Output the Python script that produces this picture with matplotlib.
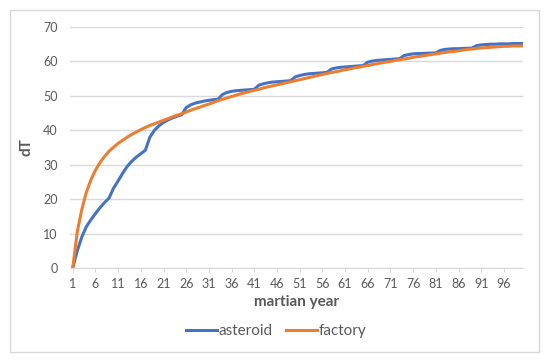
import matplotlib.pyplot as plt
from matplotlib.patches import Rectangle

years = list(range(1, 101))

asteroid = [0, 5, 9, 12, 14, 15.8, 17.5, 19, 20.3, 23.2,
            25.3, 27.5, 29.5, 31, 32.2, 33.2, 34.2, 38, 40, 41.3,
            42.3, 43, 43.6, 44.1, 44.5, 46.6, 47.4, 47.9, 48.2, 48.5,
            48.7, 48.9, 49.0, 50.4, 51.0, 51.3, 51.5, 51.6, 51.7, 51.8,
            51.9, 53.1, 53.5, 53.8, 54.0, 54.1, 54.2, 54.3, 54.4, 55.5,
            55.9, 56.2, 56.4, 56.5, 56.6, 56.7, 56.8, 57.8, 58.1, 58.3,
            58.4, 58.5, 58.6, 58.7, 58.8, 59.8, 60.1, 60.3, 60.4, 60.5,
            60.6, 60.7, 60.8, 61.7, 62.0, 62.2, 62.3, 62.3, 62.4, 62.4,
            62.5, 63.2, 63.5, 63.6, 63.7, 63.7, 63.8, 63.8, 63.9, 64.6,
            64.8, 64.9, 65.0, 65.0, 65.1, 65.1, 65.1, 65.2, 65.2, 65.2]

factory = [0, 10.5, 17, 22, 25.6, 28.4, 30.6, 32.4, 33.9, 35.1,
           36.2, 37.1, 38.0, 38.8, 39.5, 40.2, 40.8, 41.4, 41.9, 42.4,
           42.9, 43.4, 43.9, 44.4, 44.8, 45.3, 45.8, 46.3, 46.7, 47.2,
           47.6, 48.1, 48.6, 49.0, 49.4, 49.8, 50.2, 50.6, 50.9, 51.3,
           51.6, 51.9, 52.3, 52.6, 52.9, 53.2, 53.5, 53.8, 54.1, 54.4,
           54.7, 55.0, 55.3, 55.6, 55.9, 56.2, 56.5, 56.8, 57.0, 57.3,
           57.6, 57.8, 58.1, 58.3, 58.6, 58.8, 59.1, 59.3, 59.6, 59.8,
           60.0, 60.3, 60.5, 60.7, 60.9, 61.2, 61.4, 61.6, 61.8, 62.0,
           62.2, 62.4, 62.6, 62.8, 62.9, 63.1, 63.3, 63.5, 63.6, 63.8,
           63.9, 64.0, 64.1, 64.2, 64.3, 64.4, 64.4, 64.5, 64.5, 64.5]

xticks = list(range(1, 100, 5))
yticks = list(range(0, 80, 10))

plt.rcParams['font.family'] = ['Lato', 'DejaVu Sans']
grey = '#595959'
grid = '#d9d9d9'

fig = plt.figure(figsize=(5.5, 3.63), dpi=100)
fig.patches.append(Rectangle((10 / 550, 1 - 352 / 363), 529 / 550, 342 / 363,
                             transform=fig.transFigure, fill=False,
                             edgecolor=grid, linewidth=1))
ax = fig.add_axes([70 / 550, 1 - 268 / 363, 453 / 550, 241 / 363])

ax.plot(years, asteroid, color='#4472C4', lw=2.2, label='asteroid',
        solid_joinstyle='round')
ax.plot(years, factory, color='#ED7D31', lw=2.2, label='factory',
        solid_joinstyle='round')

ax.set_xlim(0.4, 100.2)
ax.set_ylim(0, 70)
ax.set_xticks(xticks)
ax.set_yticks(yticks)
ax.grid(axis='y', color=grid, lw=1)
ax.set_axisbelow(True)
for side in ['top', 'right', 'left']:
    ax.spines[side].set_visible(False)
ax.spines['bottom'].set_color(grid)
ax.tick_params(axis='x', colors=grey, labelsize=9, length=3, color=grid, pad=4)
ax.tick_params(axis='y', colors=grey, labelsize=9, length=0, pad=9)

ax.set_xlabel('martian year', fontsize=11, fontweight='bold', color=grey,
              labelpad=4)
ax.set_ylabel('dT', fontsize=11, fontweight='bold', color=grey, labelpad=7)

fig.legend(*ax.get_legend_handles_labels(), loc='center',
           bbox_to_anchor=(276 / 550, 1 - 331 / 363), ncol=2,
           frameon=False, fontsize=11, labelcolor=grey, handlelength=2.0,
           handletextpad=0.1, columnspacing=0.9)

fig.savefig('out.png', dpi=100)
